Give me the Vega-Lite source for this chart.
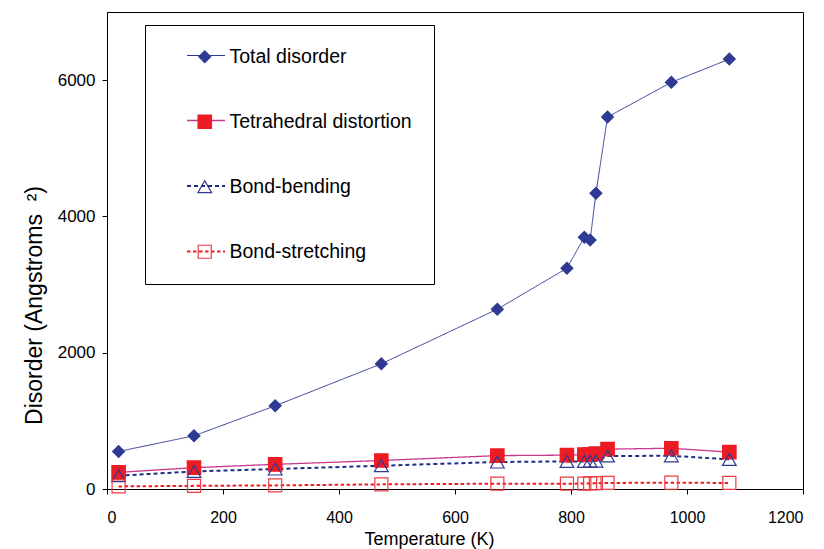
{
  "$schema": "https://vega.github.io/schema/vega-lite/v6.json",
  "autosize": {"type": "none"},
  "padding": {"left": 107, "top": 12, "right": 21, "bottom": 60},
  "width": 696,
  "height": 477,
  "background": "white",
  "data": {"values": [
    {"T": 20, "series": "Total disorder", "value": 551},
    {"T": 150, "series": "Total disorder", "value": 781},
    {"T": 290, "series": "Total disorder", "value": 1221},
    {"T": 473, "series": "Total disorder", "value": 1837},
    {"T": 673, "series": "Total disorder", "value": 2639},
    {"T": 793, "series": "Total disorder", "value": 3240},
    {"T": 823, "series": "Total disorder", "value": 3695},
    {"T": 833, "series": "Total disorder", "value": 3655},
    {"T": 843, "series": "Total disorder", "value": 4340},
    {"T": 863, "series": "Total disorder", "value": 5459},
    {"T": 973, "series": "Total disorder", "value": 5968},
    {"T": 1073, "series": "Total disorder", "value": 6309},
    {"T": 20, "series": "Tetrahedral distortion", "value": 244},
    {"T": 150, "series": "Tetrahedral distortion", "value": 313},
    {"T": 290, "series": "Tetrahedral distortion", "value": 362},
    {"T": 473, "series": "Tetrahedral distortion", "value": 418},
    {"T": 673, "series": "Tetrahedral distortion", "value": 490},
    {"T": 793, "series": "Tetrahedral distortion", "value": 497},
    {"T": 823, "series": "Tetrahedral distortion", "value": 505},
    {"T": 833, "series": "Tetrahedral distortion", "value": 510},
    {"T": 843, "series": "Tetrahedral distortion", "value": 520},
    {"T": 863, "series": "Tetrahedral distortion", "value": 585},
    {"T": 973, "series": "Tetrahedral distortion", "value": 598},
    {"T": 1073, "series": "Tetrahedral distortion", "value": 541},
    {"T": 20, "series": "Bond-bending", "value": 195},
    {"T": 150, "series": "Bond-bending", "value": 258},
    {"T": 290, "series": "Bond-bending", "value": 293},
    {"T": 473, "series": "Bond-bending", "value": 342},
    {"T": 673, "series": "Bond-bending", "value": 396},
    {"T": 793, "series": "Bond-bending", "value": 405},
    {"T": 823, "series": "Bond-bending", "value": 405},
    {"T": 833, "series": "Bond-bending", "value": 408},
    {"T": 843, "series": "Bond-bending", "value": 410},
    {"T": 863, "series": "Bond-bending", "value": 485},
    {"T": 973, "series": "Bond-bending", "value": 487},
    {"T": 1073, "series": "Bond-bending", "value": 435},
    {"T": 20, "series": "Bond-stretching", "value": 38},
    {"T": 150, "series": "Bond-stretching", "value": 46},
    {"T": 290, "series": "Bond-stretching", "value": 53},
    {"T": 473, "series": "Bond-stretching", "value": 68},
    {"T": 673, "series": "Bond-stretching", "value": 78},
    {"T": 793, "series": "Bond-stretching", "value": 78},
    {"T": 823, "series": "Bond-stretching", "value": 80},
    {"T": 833, "series": "Bond-stretching", "value": 82},
    {"T": 843, "series": "Bond-stretching", "value": 85},
    {"T": 863, "series": "Bond-stretching", "value": 89},
    {"T": 973, "series": "Bond-stretching", "value": 92},
    {"T": 1073, "series": "Bond-stretching", "value": 89}
  ]},
  "encoding": {
    "x": {
      "field": "T", "type": "quantitative",
      "scale": {"domain": [0, 1200], "nice": false},
      "axis": {
        "title": "Temperature (K)",
        "values": [0, 200, 400, 600, 800, 1000, 1200],
        "format": "d",
        "grid": false,
        "labelPadding": 15,
        "labelFontSize": 16,
        "titleFont": "Liberation Sans",
        "titleFontSize": 18,
        "titleX": 322,
        "titleY": 55,
        "titleBaseline": "alphabetic"
      }
    },
    "y": {
      "field": "value", "type": "quantitative",
      "scale": {"domain": [0, 7000], "nice": false},
      "axis": {
        "title": "Disorder (Angstroms \u00a0²)",
        "values": [0, 2000, 4000, 6000],
        "format": "d",
        "grid": false,
        "labelPadding": 7,
        "labelFontSize": 17,
        "titleFont": "Liberation Sans",
        "titleFontSize": 23,
        "titleAngle": -90,
        "titleX": -66,
        "titleY": 293,
        "titleAlign": "center",
        "titleBaseline": "alphabetic"
      }
    }
  },
  "layer": [
    {
      "mark": {"type": "line"},
      "encoding": {
        "color": {
          "field": "series", "type": "nominal", "sort": null,
          "scale": {"range": ["#2E3A93", "#C8388F", "#1F2D86", "#ED1C24"]},
          "legend": {
            "orient": "none",
            "legendX": 38,
            "legendY": 2,
            "title": null,
            "padding": 22,
            "rowPadding": 35.5,
            "symbolType": "stroke",
            "symbolSize": 1444,
            "symbolOffset": 19,
            "labelOffset": 9,
            "labelFont": "Liberation Sans",
            "labelFontSize": 19.5,
            "labelLimit": 400,
            "labelColor": "transparent",
            "strokeColor": "transparent",
            "fillColor": "transparent"
          }
        },
        "strokeDash": {
          "field": "series", "type": "nominal", "sort": null,
          "scale": {"range": [[1, 0], [1, 0], [4, 3], [3.5, 2.5]]}
        },
        "strokeWidth": {
          "field": "series", "type": "nominal", "sort": null,
          "scale": {"type": "ordinal", "range": [1, 1.3, 2, 2]}
        }
      }
    },
    {
      "mark": {"type": "point", "filled": true, "opacity": 1, "strokeWidth": 1.2},
      "encoding": {
        "fill": {
          "field": "series", "type": "nominal",
          "scale": {"domain": ["Total disorder", "Tetrahedral distortion", "Bond-bending", "Bond-stretching"],
                    "range": ["#2E3A93", "#ED1C24", "transparent", "transparent"]},
          "legend": {
            "orient": "none",
            "legendX": 38,
            "legendY": 13,
            "title": null,
            "padding": 22,
            "rowPadding": 44,
            "symbolOffset": 28,
            "labelOffset": 15,
            "symbolStrokeWidth": 1.2,
            "labelFont": "Liberation Sans",
            "labelFontSize": 19.5,
            "labelLimit": 400,
            "labelColor": "black",
            "strokeColor": "black",
            "fillColor": "transparent"
          }
        },
        "stroke": {
          "field": "series", "type": "nominal",
          "scale": {"domain": ["Total disorder", "Tetrahedral distortion", "Bond-bending", "Bond-stretching"],
                    "range": ["#2E3A93", "#ED1C24", "#2E3A93", "#EE3B43"]}
        },
        "size": {
          "field": "series", "type": "nominal",
          "scale": {"type": "ordinal", "domain": ["Total disorder", "Tetrahedral distortion", "Bond-bending", "Bond-stretching"],
                    "range": [140, 180, 190, 170]}
        },
        "shape": {
          "field": "series", "type": "nominal",
          "scale": {"domain": ["Total disorder", "Tetrahedral distortion", "Bond-bending", "Bond-stretching"],
                    "range": ["diamond", "square", "triangle-up", "square"]}
        }
      }
    }
  ],
  "config": {
    "view": {"stroke": "black", "strokeWidth": 1},
    "axis": {
      "labelFont": "Liberation Sans",
      "labelColor": "black",
      "titleColor": "black",
      "titleFontWeight": "normal",
      "domainColor": "black",
      "tickColor": "black",
      "tickSize": 5,
      "domainWidth": 1
    }
  }
}
